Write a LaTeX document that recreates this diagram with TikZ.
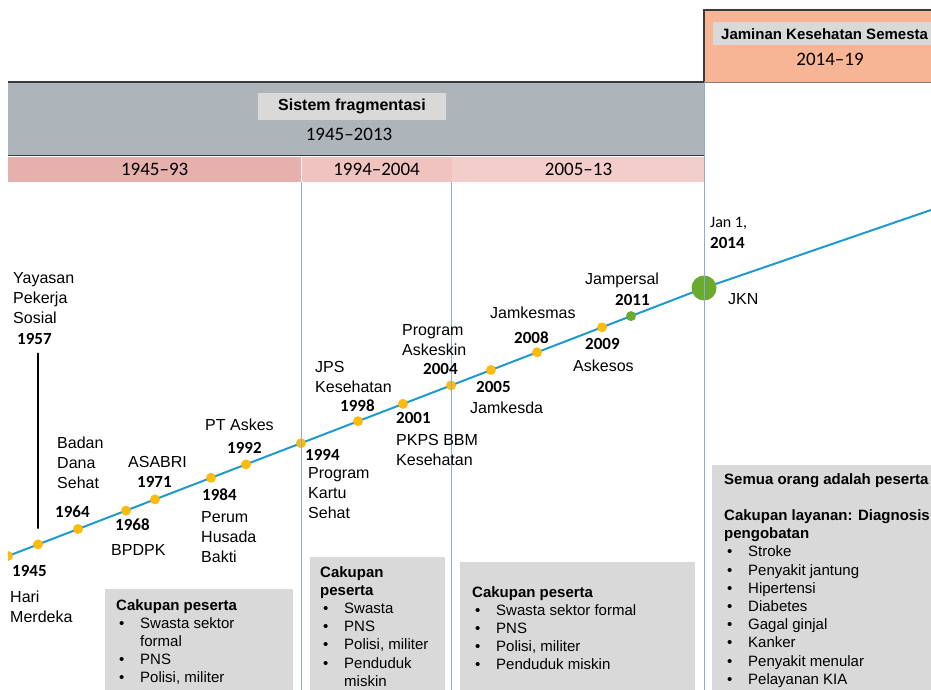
\documentclass[tikz,border=0pt]{standalone}
\usepackage{fontspec}
\setmainfont{Liberation Sans}
\newfontfamily\calibri{Carlito}

\definecolor{fraggray}{HTML}{ADB5BA}
\definecolor{jksorange}{HTML}{F7B595}
\definecolor{tagfill}{HTML}{D9D9D9}
\definecolor{bandA}{HTML}{E6B0AD}
\definecolor{bandB}{HTML}{F0C3C0}
\definecolor{bandC}{HTML}{F2CDCA}
\definecolor{lineblue}{HTML}{1F9AD0}
\definecolor{vblue}{HTML}{8EA9DB}
\definecolor{dotorange}{HTML}{FDBB10}
\definecolor{dotgreen}{HTML}{6AAA2C}
\definecolor{edgegray}{HTML}{3A3A3A}

\tikzset{
  evt/.style={font=\fontsize{16}{20}\selectfont, inner sep=0pt, align=left},
  year/.style={font=\calibri\bfseries\fontsize{17}{20}\selectfont, inner sep=0pt},
  period/.style={font=\calibri\fontsize{19}{22}\selectfont, inner sep=0pt},
  band/.style={period, anchor=north west, minimum height=25pt},
  tag/.style={font=\bfseries\fontsize{16}{18}\selectfont, fill=tagfill, inner sep=0pt},
  yeardot/.style={circle, fill=dotorange, inner sep=0pt, minimum size=10pt},
  jkndot/.style={circle, fill=dotgreen, inner sep=0pt, minimum size=25pt},
  vline/.style={vblue, line width=1.3pt},
  stem/.style={black, line width=1.3pt},
  infobox/.style={fill=tagfill, draw=none},
  infotext/.style={font=\fontsize{15}{18.2}\selectfont, inner sep=0pt, align=left, anchor=north west}
}
\newcommand{\itm}{\makebox[24pt][l]{\hspace{3pt}\textbullet}}
\newcommand{\itmrest}{\hspace*{24pt}}

\begin{document}
\begin{tikzpicture}[x=1pt, y=-1pt, line cap=round]
    \useasboundingbox (0,0) rectangle (931,690);
    \clip (8,0) rectangle (931,690);

    \coordinate (t0) at (8, 556);
    \coordinate (tj) at (704, 288);
    \coordinate (t1) at (931, 210);

    % header boxes
    \fill[jksorange] (704,10) rectangle (940,82);
    \draw[edgegray, line width=1.5pt] (704,82) -- (704,10) -- (940,10);
    \draw[gray, line width=0.8pt] (704,82) -- (940,82);
    \fill[tagfill] (713,22) rectangle (940,45);
    \node[tag, fill=none, anchor=west, font=\bfseries\fontsize{15}{18}\selectfont] (jkstag) at (721,34) {Jaminan Kesehatan Semesta};
    \node[period] (jksyears) at (830,59) {2014–19};

    \node[fill=fraggray, anchor=north west, minimum width=696pt, minimum height=73pt, inner sep=0pt] (frag) at (8,82) {};
    \draw[edgegray, line width=1.5pt] (frag.north west) -- (frag.north east) -- (frag.south east) -- (frag.south west);
    \node[tag, minimum width=188pt, minimum height=27pt] (fragtag) at (352,106.5) {Sistem fragmentasi};
    \node[period] (fragyears) at (349,134) {1945–2013};

    \node[band, fill=bandA, minimum width=293pt] (b1) at (8,157) {1945–93};
    \node[band, fill=bandB, minimum width=150pt] (b2) at (b1.north east) {1994–2004};
    \node[band, fill=bandC, minimum width=253pt] (b3) at (b2.north east) {2005–13};

    % info boxes
    \fill[infobox] (105,589) rectangle (293,700);
    \fill[infobox] (310,557) rectangle (445,700);
    \fill[infobox] (460,562) rectangle (695,700);
    \fill[infobox] (712,465) rectangle (940,700);

    \node[infotext] (info1) at (116,599) {\textbf{Cakupan peserta}\\
      \itm Swasta sektor\\ \itmrest formal\\ \itm PNS\\ \itm Polisi, militer};
    \node[infotext] (info2) at (320,566) {\textbf{Cakupan}\\ \textbf{peserta}\\
      \itm Swasta\\ \itm PNS\\ \itm Polisi, militer\\ \itm Penduduk\\ \itmrest miskin};
    \node[infotext] (info3) at (472,586) {\textbf{Cakupan peserta}\\
      \itm Swasta sektor formal\\ \itm PNS\\ \itm Polisi, militer\\ \itm Penduduk miskin};
    \node[infotext] (info4) at (724,473) {\textbf{Semua orang adalah peserta}\\[18.2pt]
      \textbf{Cakupan layanan: Diagnosis}\\ \textbf{pengobatan}\\
      \itm Stroke\\ \itm Penyakit jantung\\ \itm Hipertensi\\ \itm Diabetes\\
      \itm Gagal ginjal\\ \itm Kanker\\ \itm Penyakit menular\\ \itm Pelayanan KIA};

    % timeline
    \draw[lineblue, line width=2pt] (t0) -- (tj) -- (t1);

    \node[yeardot] (d0) at (t0) {};
    \node[yeardot] (d1945) at (38,544.4) {};
    \node[yeardot] (d1964) at (78,529.0) {};
    \node[yeardot] (d1968) at (126,510.6) {};
    \node[yeardot] (d1971) at (155,499.4) {};
    \node[yeardot] (d1984) at (211,477.8) {};
    \node[yeardot] (d1992) at (246,464.4) {};
    \node[yeardot] (d1994) at (301,443.2) {};
    \node[yeardot] (d1998) at (358,421.2) {};
    \node[yeardot] (d2001) at (403,403.9) {};
    \node[yeardot] (d2004) at (451,385.4) {};
    \node[yeardot] (d2005) at (491,370.0) {};
    \node[yeardot] (d2008) at (537,352.3) {};
    \node[yeardot] (d2009) at (602,327.3) {};
    \node[yeardot, fill=dotgreen] (d2011) at (631,316.1) {};
    \node[jkndot] (d2014) at (tj) {};

    \draw[vline] (b1.south east) -- (b1.south east |- 0,690);
    \draw[vline] (b2.south east) -- (b2.south east |- 0,690);
    \draw[vline] (frag.north east) -- (frag.north east |- 0,690);

    % events
    \node[evt, anchor=north west] (yayasan) at (13,272) {Yayasan\\Pekerja\\Sosial};
    \node[year, anchor=base west] (y1957) at (17,344) {1957};
    \draw[stem, shorten <=9pt, shorten >=11pt] (y1957.south -| d1945) -- (d1945);
    \node[year, anchor=base west] (y1945) at (12,576) {1945};
    \node[evt, anchor=north west] (merdeka) at (10,591) {Hari\\Merdeka};
    \node[evt, anchor=north west] (bds) at (57,437) {Badan\\Dana\\Sehat};
    \node[year, anchor=base west] (y1964) at (55,517) {1964};
    \node[evt, anchor=base west] (asabri) at (128,467) {ASABRI};
    \node[year, anchor=base west] (y1971) at (137,487) {1971};
    \node[year, anchor=base west] (y1968) at (115,530) {1968};
    \node[evt, anchor=base west] (bpdpk) at (111,555) {BPDPK};
    \node[evt, anchor=base west] (ptaskes) at (205,430) {PT Askes};
    \node[year, anchor=base west] (y1992) at (227,453) {1992};
    \node[year, anchor=base west] (y1984) at (202,500) {1984};
    \node[evt, anchor=north west] (perum) at (201,511) {Perum\\Husada\\Bakti};
    \node[year, anchor=base west] (y1994) at (305,460) {1994};
    \node[evt, anchor=north west] (pks) at (308,467) {Program\\Kartu\\Sehat};
    \node[evt, anchor=north west] (jps) at (315,361) {JPS\\Kesehatan};
    \node[year, anchor=base west] (y1998) at (340,411) {1998};
    \node[evt, anchor=north west] (askeskin) at (402,324) {Program\\Askeskin};
    \node[year, anchor=base west] (y2004) at (423,374) {2004};
    \node[year, anchor=base west] (y2001) at (396,423) {2001};
    \node[evt, anchor=north west] (pkps) at (396,434) {PKPS BBM\\Kesehatan};
    \node[evt, anchor=base west] (jamkesmas) at (490,318) {Jamkesmas};
    \node[year, anchor=base west] (y2008) at (514,343) {2008};
    \node[year, anchor=base west] (y2005) at (476,392) {2005};
    \node[evt, anchor=base west] (jamkesda) at (470,413) {Jamkesda};
    \node[evt, anchor=base west] (jampersal) at (585,284) {Jampersal};
    \node[year, anchor=base west] (y2011) at (615,305) {2011};
    \node[year, anchor=base west] (y2009) at (585,349) {2009};
    \node[evt, anchor=base west] (askesos) at (573,371) {Askesos};
    \node[anchor=base west, inner sep=0pt, font=\calibri\fontsize{16}{20}\selectfont] (jan1) at (710,227) {Jan 1,};
    \node[year, anchor=base west] (y2014) at (710,248) {2014};
    \node[evt, anchor=base west] (jkn) at (728,304) {JKN};
\end{tikzpicture}
\end{document}
